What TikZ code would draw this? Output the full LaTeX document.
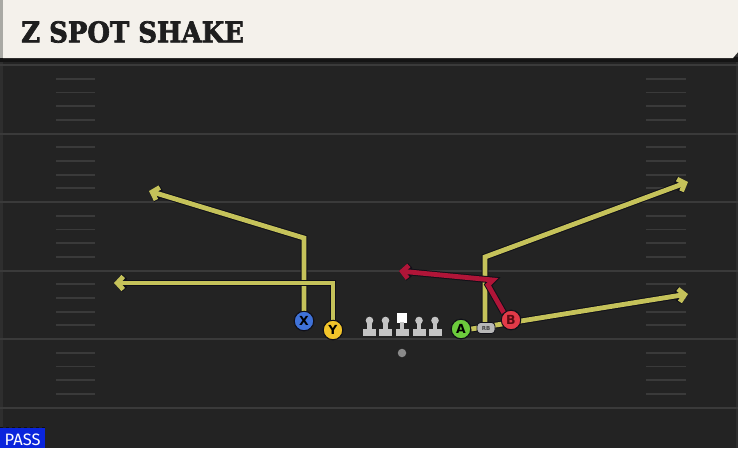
\documentclass[tikz,border=0pt]{standalone}
\usepackage{fontspec}
\usetikzlibrary{arrows.meta}
\newfontfamily\titlefont[BoldFeatures={FakeBold=2.5}]{DejaVu Serif}
\newfontfamily\passfont{Fira Sans}
\newfontfamily\plfont{DejaVu Sans}
\definecolor{bg}{HTML}{232323}
\definecolor{edgec}{HTML}{2E2E2E}
\definecolor{yardline}{HTML}{3A3A3A}
\definecolor{hashc}{HTML}{3A3A3A}
\definecolor{titlebg}{HTML}{F4F1EB}
\definecolor{titleedge}{HTML}{A9A9A4}
\definecolor{titleshadow}{HTML}{141414}
\definecolor{titletext}{HTML}{1E1E1E}
\definecolor{routeY}{HTML}{C5C25A}
\definecolor{routeR}{HTML}{B01538}
\definecolor{outl}{HTML}{101018}
\definecolor{pX}{HTML}{3F72D8}
\definecolor{pY}{HTML}{F2C42A}
\definecolor{pA}{HTML}{6CCB3C}
\definecolor{pB}{HTML}{E23A48}
\definecolor{pBtext}{HTML}{5A0A12}
\definecolor{rbfill}{HTML}{B8B8B8}
\definecolor{rbtext}{HTML}{444444}
\definecolor{qbc}{HTML}{8A8A8A}
\definecolor{linec}{HTML}{C4C4C4}
\definecolor{passblue}{HTML}{0A25DC}
\definecolor{passline}{HTML}{101010}
\tikzset{
  yard/.style={draw=yardline, line width=2pt},
  hashm/.style={draw=hashc, line width=1.8pt},
  routeyel/.style={draw=routeY, line width=4.8pt, line join=miter, preaction={draw=outl, line width=6.8pt}},
  routered/.style={draw=routeR, line width=4.8pt, line join=miter, preaction={draw=outl, line width=6.8pt}},
  tip/.style={-{Straight Barb[length=6pt,width=13pt]}},
  player/.style={circle, draw=outl, line width=1pt, minimum size=19.5pt, inner sep=0pt, font=\plfont\bfseries\fontsize{12.5}{12.5}\selectfont},
  lineman/.style={fill=linec},
}
\begin{document}
\begin{tikzpicture}[x=1pt,y=-1pt]
\useasboundingbox (0,0) rectangle (738,448);
\fill[bg] (0,0) rectangle (738,448);
\fill[edgec] (0,0) rectangle (2.5,448);
\fill[edgec] (735.5,0) rectangle (738,448);
% yard lines
\foreach \y in {65,133.5,202,270.5,339,408}
  \draw[yard] (0,\y) -- (738,\y);
% hash marks
\foreach \b in {65,133.5,202,270.5,339}
  \foreach \k in {1,2,3,4} {
    \draw[hashm] (56,\b+13.7*\k) -- (95,\b+13.7*\k);
    \draw[hashm] (646,\b+13.7*\k) -- (686,\b+13.7*\k);
  }
% title bar
\fill[titleshadow] (0,57) rectangle (738,62);
\fill[titleedge] (0,0) rectangle (3,58);
\fill[titlebg] (3,0) -- (738,0) -- (738,52) -- (733,58) -- (3,58) -- cycle;
\node[anchor=west, inner sep=0pt, text=titletext] (title) at (21,32)
  {\scalebox{0.91}[1]{\titlefont\bfseries\fontsize{28.5}{28.5}\selectfont Z SPOT SHAKE}};
% players
\node[player, fill=pX] (X) at (304,321) {X};
\node[player, fill=pY] (Y) at (333,330) {Y};
\node[player, fill=pA] (A) at (461,329) {A};
\node[player, fill=pB, text=pBtext] (B) at (511,320) {B};
\node[circle, fill=qbc, minimum size=8.5pt, inner sep=0pt] (QB) at (402,353) {};
% linemen
\foreach \x/\n in {369.5/LT,385.5/LG,419/RG,435/RT} {
  \fill[lineman] (\x,320.5) circle (3.8);
  \fill[lineman] (\x-2.4,321) rectangle (\x+2.4,330);
  \fill[lineman] (\x-6.5,329) rectangle (\x+6.5,336);
  \coordinate (\n) at (\x,328);
}
\fill[white] (397,313) rectangle (406.5,323);
\fill[lineman] (399.8,322) rectangle (404.2,330);
\fill[lineman] (395.5,329) rectangle (408.5,336);
\coordinate (C) at (402,328);
% route points
\coordinate (xc) at (304,238);
\coordinate (xe) at (149,191);
\coordinate (yc) at (333,283);
\coordinate (ye) at (114,283);
\coordinate (rbs) at (485,324);
\coordinate (rbc) at (485,257);
\coordinate (rbe) at (688,182);
\coordinate (ae) at (688,294);
\coordinate (bk1) at (488,285);
\coordinate (bk2) at (493,280);
\coordinate (be) at (399,271);
% routes
\draw[routeyel, tip] (X.north) -- (xc) -- (xe);
\draw[routeyel, tip] (Y.north) -- (yc) -- (ye);
\draw[routeyel, tip] (rbs) -- (rbc) -- (rbe);
\draw[routeyel, tip] (A.east) -- (ae);
\draw[routered, tip] (B.north west) -- (bk1) -- (bk2) -- (be);
% redraw players on top
\node[player, fill=pX] at (X) {X};
\node[player, fill=pY] at (Y) {Y};
\node[player, fill=pA] at (A) {A};
\node[player, fill=pB, text=pBtext] at (B) {B};
\node[draw=outl, line width=0.8pt, fill=rbfill, rounded corners=3.5pt, minimum width=18pt, minimum height=11pt, inner sep=0pt, font=\plfont\bfseries\fontsize{5.5}{5.5}\selectfont, text=rbtext] (RB) at (486,328) {RB};
% pass box
\fill[passblue] (0,428) rectangle (45,448);
\draw[passline, dashed, line width=0.6pt] (0,427.5) -- (45,427.5);
\node[anchor=base west, inner sep=0pt, text=white, font=\passfont\fontsize{16.5}{16.5}\selectfont] (pass) at (4.5,445) {PASS};
\end{tikzpicture}
\end{document}
